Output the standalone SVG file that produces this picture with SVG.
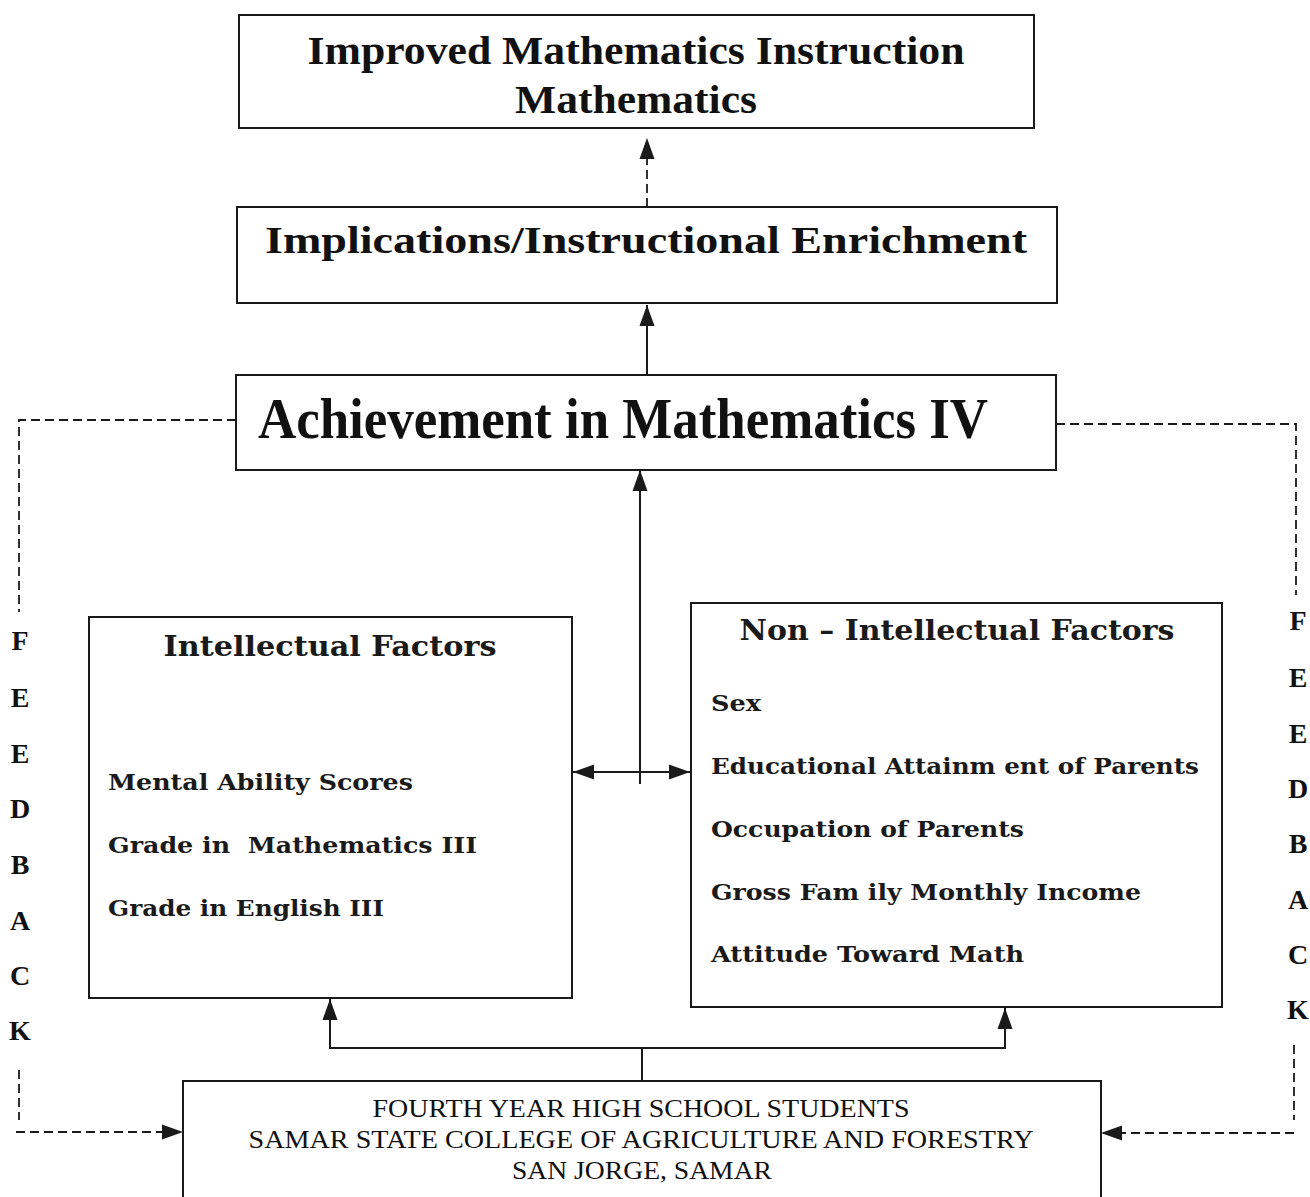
<svg xmlns="http://www.w3.org/2000/svg" width="1310" height="1197" viewBox="0 0 1310 1197">
  <defs>
    <marker id="head" markerUnits="userSpaceOnUse" markerWidth="22" markerHeight="18" refX="21" refY="9" orient="auto">
      <path d="M0,1.5 L21,9 L0,16.5 Z" fill="#1a1a1a"/>
    </marker>
    <style>
      .box { fill: none; stroke: #1a1a1a; stroke-width: 2; }
      .line { fill: none; stroke: #1a1a1a; stroke-width: 2; }
      .dash { fill: none; stroke: #1a1a1a; stroke-width: 1.8; stroke-dasharray: 9 5; }
      .head { font-family: "Liberation Serif", "Times New Roman", serif; font-weight: bold; fill: #111; text-anchor: middle; }
      .slab { font-family: "DejaVu Serif", "Liberation Serif", serif; font-weight: bold; fill: #1a1a1a; }
      .plain { font-family: "Liberation Serif", "Times New Roman", serif; fill: #111; text-anchor: middle; font-size: 26px; }
      .fb { font-family: "Liberation Serif", "Times New Roman", serif; font-weight: bold; fill: #111; text-anchor: middle; font-size: 28px; }
    </style>
  </defs>

  <rect width="1310" height="1197" fill="#ffffff"/>

  <!-- connectors -->
  <g id="connectors">
    <!-- enrichment to improved instruction -->
    <line class="dash" x1="647" y1="207" x2="647" y2="138" marker-end="url(#head)"/>
    <!-- achievement to enrichment -->
    <line class="line" x1="647" y1="375" x2="647" y2="305" marker-end="url(#head)"/>
    <!-- factors to achievement -->
    <line class="line" x1="640" y1="784" x2="640" y2="470" marker-end="url(#head)"/>
    <!-- intellectual <-> non-intellectual -->
    <line class="line" x1="600" y1="772" x2="573" y2="772" marker-end="url(#head)"/>
    <line class="line" x1="600" y1="772" x2="690" y2="772" marker-end="url(#head)"/>
    <!-- respondents to both factor groups -->
    <polyline class="line" points="642,1081 642,1048"/>
    <line class="line" x1="642" y1="1048" x2="330" y2="1048"/>
    <line class="line" x1="642" y1="1048" x2="1005" y2="1048"/>
    <line class="line" x1="330" y1="1049" x2="330" y2="999" marker-end="url(#head)"/>
    <line class="line" x1="1005" y1="1049" x2="1005" y2="1008" marker-end="url(#head)"/>
    <!-- feedback loop, left -->
    <polyline class="dash" points="236,420 19,420 19,612"/>
    <line class="dash" x1="19" y1="1070" x2="19" y2="1120"/>
    <line class="dash" x1="16" y1="1132" x2="183" y2="1132" marker-end="url(#head)"/>
    <!-- feedback loop, right -->
    <polyline class="dash" points="1056,424 1296,424 1296,595"/>
    <line class="dash" x1="1294" y1="1045" x2="1294" y2="1120"/>
    <line class="dash" x1="1294" y1="1133" x2="1101" y2="1133" marker-end="url(#head)"/>
  </g>

  <g id="improved-instruction">
    <rect class="box" x="239" y="15" width="795" height="113"/>
    <text class="head" x="636" y="64" font-size="40" textLength="657" lengthAdjust="spacingAndGlyphs">Improved Mathematics Instruction</text>
    <text class="head" x="636" y="113" font-size="40" textLength="242" lengthAdjust="spacingAndGlyphs">Mathematics</text>
  </g>

  <g id="enrichment">
    <rect class="box" x="237" y="207" width="820" height="96"/>
    <text class="head" x="646" y="253" font-size="38" textLength="762" lengthAdjust="spacingAndGlyphs">Implications/Instructional Enrichment</text>
  </g>

  <g id="achievement">
    <rect class="box" x="236" y="375" width="820" height="95"/>
    <text class="head" x="623" y="438" font-size="58" textLength="730" lengthAdjust="spacingAndGlyphs">Achievement in Mathematics IV</text>
  </g>

  <g id="intellectual-factors">
    <rect class="box" x="89" y="617" width="483" height="381"/>
    <text class="slab" x="330" y="656" font-size="27" text-anchor="middle" textLength="333" lengthAdjust="spacingAndGlyphs">Intellectual Factors</text>
    <text class="slab" x="108" y="790" font-size="23" textLength="305" lengthAdjust="spacingAndGlyphs">Mental Ability Scores</text>
    <text class="slab" x="108" y="853" font-size="23" textLength="369" lengthAdjust="spacingAndGlyphs">Grade in&#160; Mathematics III</text>
    <text class="slab" x="108" y="916" font-size="23" textLength="276" lengthAdjust="spacingAndGlyphs">Grade in English III</text>
  </g>

  <g id="non-intellectual-factors">
    <rect class="box" x="691" y="603" width="531" height="404"/>
    <text class="slab" x="957" y="640" font-size="27" text-anchor="middle" textLength="435" lengthAdjust="spacingAndGlyphs">Non – Intellectual Factors</text>
    <text class="slab" x="711" y="711" font-size="23" textLength="50" lengthAdjust="spacingAndGlyphs">Sex</text>
    <text class="slab" x="711" y="774" font-size="23" textLength="488" lengthAdjust="spacingAndGlyphs">Educational Attainm ent of Parents</text>
    <text class="slab" x="711" y="837" font-size="23" textLength="313" lengthAdjust="spacingAndGlyphs">Occupation of Parents</text>
    <text class="slab" x="711" y="900" font-size="23" textLength="430" lengthAdjust="spacingAndGlyphs">Gross Fam ily Monthly Income</text>
    <text class="slab" x="711" y="962" font-size="23" textLength="313" lengthAdjust="spacingAndGlyphs">Attitude Toward Math</text>
  </g>

  <g id="respondents">
    <rect class="box" x="183" y="1081" width="918" height="130"/>
    <text class="plain" x="641" y="1117" textLength="537" lengthAdjust="spacingAndGlyphs">FOURTH YEAR HIGH SCHOOL STUDENTS</text>
    <text class="plain" x="641" y="1148" textLength="785" lengthAdjust="spacingAndGlyphs">SAMAR STATE COLLEGE OF AGRICULTURE AND FORESTRY</text>
    <text class="plain" x="642" y="1179" textLength="260" lengthAdjust="spacingAndGlyphs">SAN JORGE, SAMAR</text>
  </g>

  <g id="feedback-left">
    <text class="fb" x="20" y="650">F</text>
    <text class="fb" x="20" y="707">E</text>
    <text class="fb" x="20" y="763">E</text>
    <text class="fb" x="20" y="818">D</text>
    <text class="fb" x="20" y="874">B</text>
    <text class="fb" x="20" y="930">A</text>
    <text class="fb" x="20" y="985">C</text>
    <text class="fb" x="20" y="1040">K</text>
  </g>

  <g id="feedback-right">
    <text class="fb" x="1298" y="630">F</text>
    <text class="fb" x="1298" y="687">E</text>
    <text class="fb" x="1298" y="743">E</text>
    <text class="fb" x="1298" y="798">D</text>
    <text class="fb" x="1298" y="853">B</text>
    <text class="fb" x="1298" y="909">A</text>
    <text class="fb" x="1298" y="964">C</text>
    <text class="fb" x="1298" y="1019">K</text>
  </g>
</svg>
